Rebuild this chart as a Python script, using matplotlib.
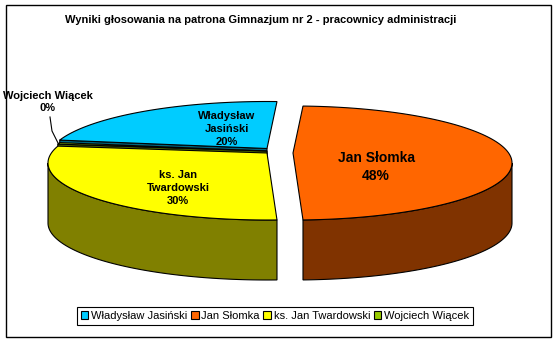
"""
Wyniki głosowania - 3D pie chart (Excel style) drawn with matplotlib patches.
"""

import matplotlib.pyplot as plt
import numpy as np
from matplotlib.patches import Patch, Polygon, Rectangle

plt.rcParams['font.family'] = ['Liberation Sans', 'DejaVu Sans']

TITLE = "Wyniki głosowania na patrona Gimnazjum nr 2 - pracownicy administracji"

names = ["Władysław Jasiński", "Jan Słomka", "ks. Jan Twardowski", "Wojciech Wiącek"]
shares = [20.45, 48.45, 30.45, 0.45]
slice_labels = ["Władysław\nJasiński", "Jan Słomka", "ks. Jan\nTwardowski",
                "Wojciech Wiącek"]

top_colors = ["#00CCFF", "#FF6600", "#FFFF00", "#99CC00"]
side_colors = ["#006680", "#803300", "#808000", "#4D6600"]

# geometry in pixels (axes fill the whole figure)
W, H = 557, 343
RX, RY, DEPTH = 219, 57, 60
TILT = 10                      # projected centre sits a bit above the rim middle
centres = [(267, 158.5), (293, 163), (267, 163), (267, 161)]
label_pos = [(227, 129), (376, 167), (178, 188), (48, 102)]
label_size = [8, 10, 8, 8]


def rim(cx, cy, t_deg):
    t = np.radians(t_deg)
    return cx + RX * np.sin(t), cy - RY * np.cos(t)


def main():
    fig = plt.figure(figsize=(W / 100, H / 100), dpi=100)
    ax = fig.add_axes([0, 0, 1, 1])
    ax.set_xlim(0, W)
    ax.set_ylim(H, 0)
    ax.axis('off')

    vals = np.array(shares)
    spans = 360 * vals / vals.sum()
    # rotate so the biggest slice faces right
    first = 90 - spans[0] - spans[1] / 2
    starts = first + np.concatenate([[0], np.cumsum(spans)[:-1]])
    mids = starts + spans / 2
    order = np.argsort(-np.cos(np.radians(mids)))   # back to front

    for i in order:
        cx, cy = centres[i]
        t1, t2 = starts[i], starts[i] + spans[i]
        px, py = cx, cy - TILT

        # radial cut faces that clearly look towards the viewer
        for t, facing in ((t1, -np.sin(np.radians(t1))),
                          (t2, np.sin(np.radians(t2)))):
            if facing > 0.2:
                x, y = rim(cx, cy, t)
                quad = [(px, py), (x, y), (x, y + DEPTH), (px, py + DEPTH)]
                ax.add_patch(Polygon(quad, fc=side_colors[i], ec='black',
                                     lw=0.8))

        # outer wall, only the front half is seen
        for lo, hi in ((90, 270), (450, 630)):
            a, b = max(t1, lo), min(t2, hi)
            if a < b:
                tt = np.linspace(a, b, 120)
                x, y = rim(cx, cy, tt)
                poly = np.column_stack([np.r_[x, x[::-1]],
                                        np.r_[y, y[::-1] + DEPTH]])
                ax.add_patch(Polygon(poly, fc=side_colors[i], ec='black',
                                     lw=0.8))

        # top face
        tt = np.linspace(t1, t2, 200)
        x, y = rim(cx, cy, tt)
        poly = np.column_stack([np.r_[px, x], np.r_[py, y]])
        ax.add_patch(Polygon(poly, fc=top_colors[i], ec='black', lw=0.8))

    # data labels
    for i in range(len(names)):
        text = "%s\n%d%%" % (slice_labels[i], int(shares[i]))
        ax.text(label_pos[i][0], label_pos[i][1], text, ha='center',
                va='center', fontsize=label_size[i], fontweight='bold',
                linespacing=1.35, zorder=5)

    # leader line for the tiny slice
    ax.plot([50, 52, 58], [117, 131, 143], color='black', lw=0.8, zorder=5)

    # title
    ax.text(261, 20, TITLE, ha='center', va='center', fontsize=8,
            fontweight='bold')

    # legend
    handles = [Patch(fc=c, ec='black', lw=0.8) for c in top_colors]
    leg = ax.legend(handles, names, ncol=4, loc='center',
                    bbox_to_anchor=(275 / W, 1 - 316 / H),
                    bbox_transform=fig.transFigure, fontsize=8,
                    handlelength=0.7, handleheight=0.7, handletextpad=0.25,
                    columnspacing=0.3, borderpad=0.35, fancybox=False,
                    framealpha=1, edgecolor='black')
    leg.get_frame().set_linewidth(0.8)

    # chart frame
    ax.add_patch(Rectangle((6, 5), 545, 332, fill=False, ec='black', lw=1))

    fig.savefig("out.png", dpi=100)
    plt.close(fig)


if __name__ == "__main__":
    main()
